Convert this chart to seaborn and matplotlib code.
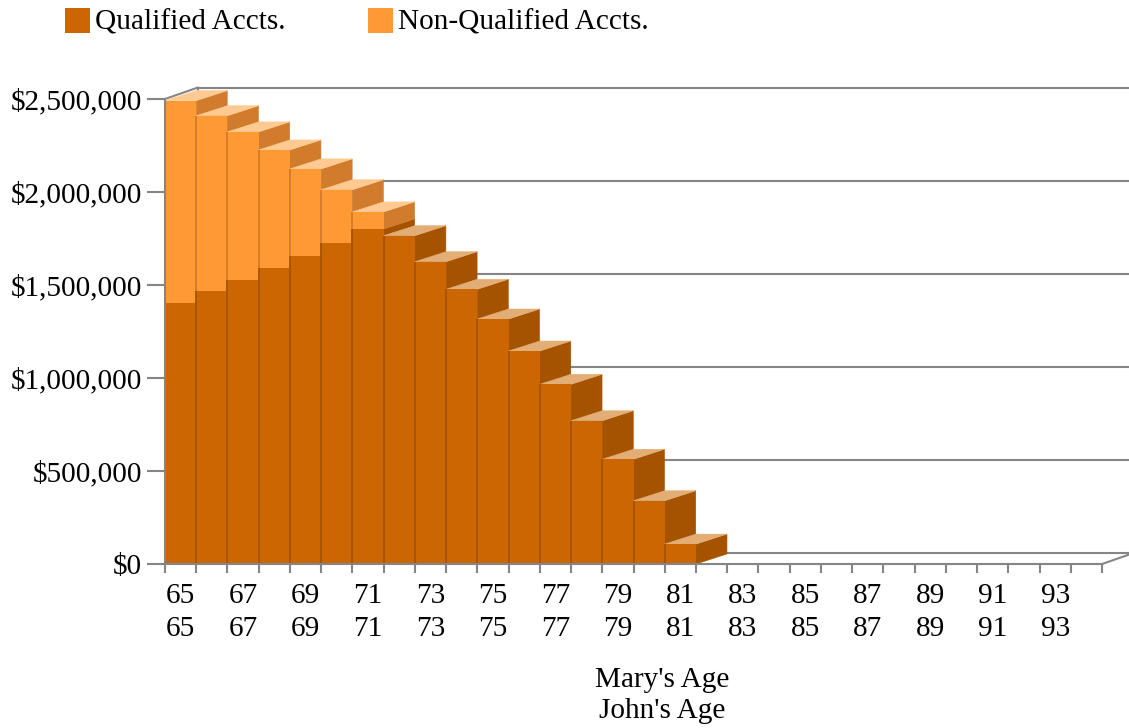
import numpy as np
import pandas as pd
import matplotlib
matplotlib.use("Agg")
import matplotlib.pyplot as plt
import seaborn as sns
from matplotlib.patches import Polygon, Rectangle

# ---- data -------------------------------------------------------------
ages = [65, 66, 67, 68, 69, 70, 71, 72, 73, 74, 75, 76, 77, 78, 79,
        80, 81, 82, 83, 84, 85, 86, 87, 88, 89, 90, 91, 92, 93, 94]
qualified = [1405000, 1469000, 1527000, 1593000, 1657000, 1727000, 1801000,
             1765000, 1625000, 1477000, 1317000, 1145000, 966000, 770000,
             563000, 340000, 107000, 0, 0, 0, 0, 0, 0, 0, 0, 0, 0, 0, 0, 0]
non_qualified = [1086000, 941000, 796000, 633000, 467000, 285000, 92000,
                 0, 0, 0, 0, 0, 0, 0, 0, 0, 0, 0, 0, 0, 0, 0, 0, 0, 0, 0,
                 0, 0, 0, 0]
y_ticks = [0, 500000, 1000000, 1500000, 2000000, 2500000]
legend_labels = ["Qualified Accts.", "Non-Qualified Accts."]
axis_title = "Mary's Age\nJohn's Age"

# ---- colours ----------------------------------------------------------
QUAL_FRONT, QUAL_SIDE, QUAL_TOP = "#CC6600", "#A65300", "#E3AD76"
NONQ_FRONT, NONQ_SIDE, NONQ_TOP = "#FF9933", "#D17B2C", "#FFCA92"
FRAME = "#858585"

sns.set_theme(style="white")
plt.rcParams["font.family"] = ["Liberation Serif", "DejaVu Serif"]
plt.rcParams["text.color"] = "black"
FS = 21.1

W, H = 1129, 728
fig = plt.figure(figsize=(W / 100, H / 100), dpi=100)
left, right, bottom, top = 165, 1102, 564, 99
ax = fig.add_axes([left / W, 1 - bottom / H, (right - left) / W, (bottom - top) / H])

df = pd.DataFrame({"age": [str(a) for a in ages],
                   "qualified": qualified,
                   "non_qualified": non_qualified})
df["total"] = df["qualified"] + df["non_qualified"]

# front faces: full stack first, qualified portion over it
sns.barplot(data=df, x="age", y="total", color=NONQ_FRONT, saturation=1,
            width=1.0, linewidth=0, errorbar=None, ax=ax)
sns.barplot(data=df, x="age", y="qualified", color=QUAL_FRONT, saturation=1,
            width=1.0, linewidth=0, errorbar=None, ax=ax)

n = len(ages)
ax.set_xlim(-0.5, n - 0.5)
ax.set_ylim(0, y_ticks[-1])
ax.set_xlabel("")
ax.set_ylabel("")


def px_offset(dxp, dyp):
    """Convert a screen offset in pixels to data units."""
    o = ax.transData.transform((0, 0))
    p = ax.transData.inverted().transform((o[0] + dxp, o[1] + dyp))
    return p[0], p[1]


bdx, bdy = px_offset(31, 10)     # bar depth
wdx, wdy = px_offset(33, 11.5)   # back wall depth

# back wall grid and frame
for v in y_ticks:
    ax.plot([-0.5 + wdx, n - 0.5 + wdx], [v + wdy, v + wdy], color=FRAME,
            lw=1.5, clip_on=False, zorder=0.5, solid_capstyle="butt")
ax.plot([-0.5, -0.5 + wdx], [y_ticks[-1], y_ticks[-1] + wdy], color=FRAME,
        lw=1.5, clip_on=False, zorder=0.5)
ax.plot([-0.5 + wdx, -0.5 + wdx], [wdy, y_ticks[-1] + wdy], color=FRAME,
        lw=1.5, clip_on=False, zorder=0.5)
ax.plot([n - 0.5, n - 0.5 + wdx], [0, wdy], color=FRAME, lw=1.5,
        clip_on=False, zorder=0.5)

# extruded sides and tops
tot_bars, q_bars = ax.containers[0], ax.containers[1]
for i, (pt, pq) in enumerate(zip(tot_bars, q_bars)):
    h_tot, h_q = pt.get_height(), pq.get_height()
    z = 2 + 0.01 * i
    pt.set_zorder(z + 0.004)
    pq.set_zorder(z + 0.005)
    if h_tot <= 0:
        continue
    x0 = pt.get_x()
    xr = x0 + pt.get_width()
    for y0, y1, c in [(0, h_q, QUAL_SIDE), (h_q, h_tot, NONQ_SIDE)]:
        if y1 > y0:
            ax.add_patch(Polygon([(xr, y0), (xr + bdx, y0 + bdy),
                                  (xr + bdx, y1 + bdy), (xr, y1)],
                                 closed=True, facecolor=c, edgecolor=c,
                                 lw=0.4, zorder=z, clip_on=False))
    top_c = NONQ_TOP if h_tot > h_q else QUAL_TOP
    ax.add_patch(Polygon([(x0, h_tot), (xr, h_tot), (xr + bdx, h_tot + bdy),
                          (x0 + bdx, h_tot + bdy)], closed=True,
                         facecolor=top_c, edgecolor=top_c, lw=0.4,
                         zorder=z + 0.001, clip_on=False))
    if i > 0:
        ax.plot([x0, x0], [0, h_q], color=QUAL_SIDE, lw=1.3,
                zorder=z + 0.006, solid_capstyle="butt")
        if h_tot > h_q:
            ax.plot([x0, x0], [h_q, h_tot], color=NONQ_SIDE, lw=1.3,
                     zorder=z + 0.006, solid_capstyle="butt")

# axes frame and ticks
for s in ["top", "right"]:
    ax.spines[s].set_visible(False)
for s in ["left", "bottom"]:
    ax.spines[s].set_color(FRAME)
    ax.spines[s].set_linewidth(1.5)
    ax.spines[s].set_zorder(3)

ax.set_xticks(range(0, n, 2))
ax.set_xticklabels([f"{a}\n{a}" for a in ages[::2]])
ax.set_xticks(np.arange(-0.5, n, 1), minor=True)
ax.tick_params(axis="x", which="major", bottom=True, length=0, pad=13.5,
               labelsize=FS, labelcolor="black")
ax.tick_params(axis="x", which="minor", bottom=True, length=6.5, width=1.5,
               color=FRAME, direction="out")
ax.set_yticks(y_ticks)
ax.set_yticklabels([f"${v:,.0f}" for v in y_ticks])
ax.tick_params(axis="y", left=True, length=13, width=1.5, color=FRAME,
               direction="out", pad=3.6, labelsize=FS, labelcolor="black")
for lab in ax.get_xticklabels():
    lab.set_linespacing(1.37)
ax.grid(False)

# legend
for sx, tx, c, lab in [(65, 95, QUAL_FRONT, legend_labels[0]),
                       (368, 398, NONQ_FRONT, legend_labels[1])]:
    fig.add_artist(Rectangle((sx / W, 1 - 33 / H), 25 / W, 25 / H,
                             transform=fig.transFigure, facecolor=c,
                             edgecolor="none"))
    fig.text(tx / W, 1 - 29.5 / H, lab, ha="left", va="baseline",
             fontsize=FS, color="black")

# two-line axis title; baseline refers to the last line here
fig.text(662 / W, 1 - 718 / H, axis_title, ha="center", va="baseline",
         fontsize=FS, linespacing=1.24, color="black")

fig.savefig("out.png", dpi=100)
